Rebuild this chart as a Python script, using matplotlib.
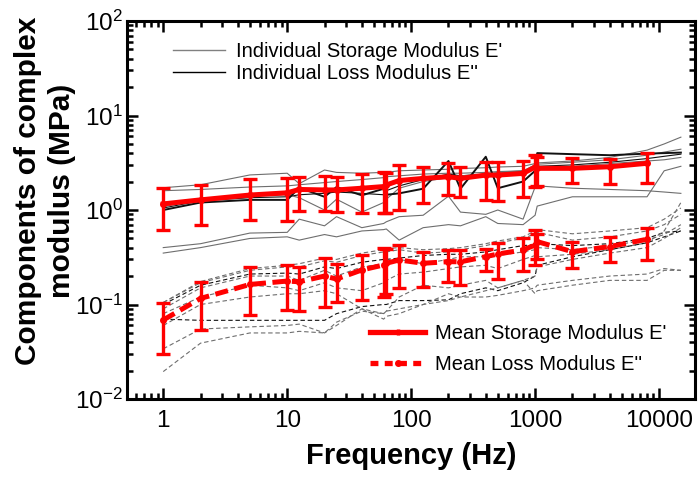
import matplotlib
matplotlib.use('Agg')
import matplotlib.pyplot as plt
from matplotlib.lines import Line2D
from matplotlib.ticker import LogLocator, NullFormatter, FixedLocator

plt.rcParams['font.family'] = ['Liberation Sans', 'DejaVu Sans']
plt.rcParams['mathtext.fontset'] = 'custom'
plt.rcParams['mathtext.rm'] = 'Liberation Sans'
plt.rcParams['mathtext.it'] = 'Liberation Sans:italic'
plt.rcParams['mathtext.bf'] = 'Liberation Sans:bold'

# ---------------- data ----------------
freq_mean = [1, 2, 5, 10, 12.5, 20, 25, 40, 60, 63, 80, 125, 200, 250, 400, 500, 800, 1000, 1040, 2000, 4000, 8000]
storage_mean = [1.16, 1.28, 1.44, 1.52, 1.65, 1.63, 1.63, 1.70, 1.77, 1.84, 2.05, 2.16, 2.25, 2.16, 2.34, 2.34, 2.44, 2.85, 2.76, 2.76, 2.87, 3.12]
storage_hi = [1.70, 1.84, 2.11, 2.20, 2.25, 2.30, 2.25, 2.39, 2.51, 2.45, 2.99, 2.87, 3.12, 2.87, 3.24, 3.20, 3.30, 3.82, 3.60, 3.58, 3.50, 4.04]
storage_lo = [0.61, 0.69, 0.78, 0.77, 0.975, 0.975, 0.95, 0.92, 0.92, 0.93, 1.00, 1.18, 1.44, 1.38, 1.28, 1.25, 1.38, 1.77, 1.80, 1.92, 1.88, 1.94]
loss_mean = [0.0686, 0.116, 0.163, 0.177, 0.174, 0.200, 0.186, 0.232, 0.262, 0.273, 0.296, 0.273, 0.284, 0.283, 0.321, 0.342, 0.378, 0.426, 0.463, 0.362, 0.410, 0.490]
loss_hi = [0.103, 0.174, 0.248, 0.262, 0.250, 0.308, 0.266, 0.334, 0.393, 0.390, 0.426, 0.362, 0.378, 0.378, 0.384, 0.451, 0.500, 0.614, 0.560, 0.463, 0.514, 0.640]
loss_lo = [0.0297, 0.0537, 0.0775, 0.0875, 0.085, 0.095, 0.107, 0.112, 0.121, 0.128, 0.148, 0.152, 0.174, 0.161, 0.228, 0.186, 0.228, 0.262, 0.300, 0.241, 0.284, 0.296]

freq_ind = [1, 2, 5, 10, 12.5, 20, 25, 40, 60, 63, 80, 125, 200, 250, 400, 500, 800, 1000, 1040, 2000, 4000, 8000, 11000, 15000]

# individual storage moduli (solid lines)
storage_s1 = [1.72, 1.85, 2.35, 2.45, 1.90, 2.65, 2.50, 2.45, 2.50, 2.50, 2.60, 2.65, 2.70, 2.75, 2.80, 2.85, 2.90, 3.10, 3.15, 3.30, 3.60, 4.30, 5.00, 5.90]
storage_s2 = [1.60, 1.65, 1.75, 1.80, 1.85, 1.95, 2.00, 2.10, 2.20, 2.25, 2.30, 2.40, 2.45, 2.45, 2.50, 2.55, 2.60, 3.00, 3.05, 3.20, 3.40, 3.80, 4.10, 4.40]
storage_s3 = [1.00, 1.20, 1.28, 1.28, 1.72, 1.38, 1.75, 1.43, 1.68, 1.45, 1.50, 1.68, 3.30, 1.68, 3.66, 1.70, 2.00, 2.60, 4.00, 3.90, 3.80, 3.95, 4.00, 4.05]
storage_s4 = [1.05, 1.25, 1.35, 1.38, 1.45, 1.50, 1.55, 1.50, 1.45, 1.60, 1.80, 2.10, 2.40, 2.30, 2.40, 2.45, 2.55, 2.80, 2.90, 3.00, 3.20, 3.50, 3.70, 3.90]
storage_s5 = [1.08, 1.30, 1.40, 1.45, 1.35, 1.00, 1.30, 0.95, 1.20, 1.30, 1.70, 2.00, 2.20, 2.30, 2.40, 2.50, 2.60, 2.70, 2.75, 2.90, 3.10, 3.30, 3.40, 3.60]
storage_s6 = [0.40, 0.44, 0.57, 0.58, 0.80, 0.68, 0.85, 0.65, 0.72, 0.75, 0.85, 0.88, 1.40, 0.95, 0.90, 1.00, 0.80, 1.75, 1.80, 1.70, 1.65, 1.60, 1.55, 1.50]
storage_s7 = [0.35, 0.40, 0.50, 0.52, 0.48, 0.55, 0.52, 0.60, 0.62, 0.63, 0.48, 0.65, 0.70, 0.68, 0.85, 0.72, 0.70, 0.88, 1.10, 1.38, 1.38, 1.38, 2.60, 2.90]

# individual loss moduli (dashed lines)
loss_l1 = [0.105, 0.170, 0.230, 0.250, 0.250, 0.290, 0.280, 0.330, 0.360, 0.360, 0.380, 0.350, 0.360, 0.380, 0.420, 0.450, 0.500, 0.560, 0.580, 0.480, 0.520, 0.600, 0.700, 0.900]
loss_l2 = [0.100, 0.160, 0.210, 0.215, 0.210, 0.250, 0.240, 0.280, 0.300, 0.300, 0.310, 0.330, 0.340, 0.340, 0.360, 0.380, 0.420, 0.430, 0.440, 0.420, 0.440, 0.500, 0.580, 0.600]
loss_l3 = [0.090, 0.150, 0.200, 0.200, 0.180, 0.230, 0.200, 0.250, 0.270, 0.280, 0.300, 0.270, 0.300, 0.320, 0.320, 0.330, 0.360, 0.380, 0.400, 0.380, 0.420, 0.480, 0.550, 0.700]
loss_l4 = [0.080, 0.120, 0.160, 0.150, 0.140, 0.170, 0.150, 0.140, 0.170, 0.180, 0.210, 0.220, 0.240, 0.250, 0.260, 0.240, 0.300, 0.330, 0.320, 0.340, 0.380, 0.450, 0.600, 1.200]
loss_l5 = [0.070, 0.068, 0.068, 0.068, 0.068, 0.068, 0.080, 0.095, 0.100, 0.100, 0.110, 0.110, 0.112, 0.130, 0.150, 0.140, 0.170, 0.200, 0.260, 0.320, 0.380, 0.450, 0.520, 0.600]
loss_l6 = [0.060, 0.100, 0.120, 0.130, 0.130, 0.140, 0.130, 0.090, 0.070, 0.075, 0.080, 0.100, 0.130, 0.120, 0.140, 0.150, 0.180, 0.200, 0.250, 0.300, 0.350, 0.400, 0.500, 0.650]
loss_l7 = [0.034, 0.055, 0.058, 0.060, 0.062, 0.050, 0.060, 0.090, 0.080, 0.085, 0.090, 0.100, 0.110, 0.120, 0.120, 0.125, 0.140, 0.150, 0.160, 0.180, 0.200, 0.210, 0.240, 0.230]
loss_l8 = [0.0195, 0.039, 0.050, 0.050, 0.052, 0.050, 0.065, 0.085, 0.080, 0.085, 0.120, 0.160, 0.150, 0.160, 0.180, 0.150, 0.180, 0.130, 0.140, 0.160, 0.180, 0.180, 0.230, 0.230]
loss_l9 = [0.105, 0.175, 0.240, 0.260, 0.270, 0.310, 0.300, 0.350, 0.380, 0.390, 0.400, 0.380, 0.390, 0.400, 0.440, 0.470, 0.520, 0.600, 0.620, 0.560, 0.600, 0.650, 0.800, 1.050]

x_ticks = [1, 10, 100, 1000, 10000]
x_tick_labels = ['1', '10', '100', '1000', '10000']
y_ticks = [0.01, 0.1, 1, 10, 100]
y_exponents = [-2, -1, 0, 1, 2]

# ---------------- figure ----------------
W, H = 698, 483
fig = plt.figure(figsize=(W / 100, H / 100), dpi=100)
ax = fig.add_axes([127 / W, 1 - 399 / H, (695 - 127) / W, (399 - 21) / H])
ax.set_xscale('log')
ax.set_yscale('log')

gray = '#6e6e6e'
black = '#111111'
for s, c, lw in [(storage_s1, gray, 0.8), (storage_s2, gray, 0.8), (storage_s4, black, 0.8),
                 (storage_s5, gray, 0.8), (storage_s6, gray, 0.8), (storage_s7, gray, 0.8),
                 (storage_s3, black, 1.4)]:
    ax.plot(freq_ind, s, color=c, lw=lw, zorder=2)

dash = (0, (4, 2.5))
for s, c in [(loss_l1, gray), (loss_l2, black), (loss_l3, gray), (loss_l4, gray), (loss_l5, black),
             (loss_l6, gray), (loss_l7, gray), (loss_l8, gray), (loss_l9, gray)]:
    ax.plot(freq_ind, s, color=c, lw=0.8, linestyle=dash, zorder=2)

red = '#ff0000'
s_err = [[m - l for m, l in zip(storage_mean, storage_lo)], [h - m for m, h in zip(storage_mean, storage_hi)]]
l_err = [[m - l for m, l in zip(loss_mean, loss_lo)], [h - m for m, h in zip(loss_mean, loss_hi)]]
ax.errorbar(freq_mean, storage_mean, yerr=s_err, color=red, lw=3.6, elinewidth=2.4,
            capsize=5, capthick=2.4, marker='o', ms=4, zorder=5)
ax.errorbar(freq_mean, loss_mean, yerr=l_err, color=red, lw=3.6, elinewidth=2.4,
            capsize=5, capthick=2.4, marker='o', ms=4, zorder=5, linestyle=(0, (2.6, 1.3)))

ax.set_xlim(0.51, 19500)
ax.set_ylim(0.01, 100)

ax.xaxis.set_major_locator(FixedLocator(x_ticks))
ax.set_xticklabels(x_tick_labels)
ax.xaxis.set_minor_locator(LogLocator(base=10, subs=range(2, 10), numticks=20))
ax.xaxis.set_minor_formatter(NullFormatter())
ax.yaxis.set_major_locator(FixedLocator(y_ticks))
ax.set_yticklabels(['$\\mathregular{10^{%d}}$' % e for e in y_exponents])
ax.yaxis.set_minor_locator(LogLocator(base=10, subs=range(2, 10), numticks=20))
ax.yaxis.set_minor_formatter(NullFormatter())

ax.tick_params(which='both', direction='in', top=True, right=True, width=1.8, color='black')
ax.tick_params(which='major', length=8)
ax.tick_params(which='minor', length=4.5)
ax.tick_params(axis='x', which='major', labelsize=17.5, pad=8)
ax.tick_params(axis='y', which='major', labelsize=17.5, pad=3)
for sp in ax.spines.values():
    sp.set_linewidth(2.2)

ax.set_xlabel('Frequency (Hz)', fontsize=21, fontweight='bold', labelpad=7)
fig.text(45 / W, 1 - 191 / H, 'Components of complex\nmodulus (MPa)', rotation=90,
         fontsize=21.5, fontweight='bold', ha='center', va='center', linespacing=1.25,
         multialignment='center')

# legends
h1 = [Line2D([], [], color='#808080', lw=1.0), Line2D([], [], color='black', lw=1.0)]
leg1 = ax.legend(h1, ["Individual Storage Modulus E'", "Individual Loss Modulus E''"],
                 loc='upper left', bbox_to_anchor=(173 / W, 1 - 42 / H), bbox_transform=fig.transFigure,
                 frameon=False, fontsize=14.5, handlelength=2.6, handletextpad=0.55,
                 labelspacing=0.15, borderpad=0, borderaxespad=0)
ax.add_artist(leg1)
h2 = [Line2D([], [], color=red, lw=3.8, marker='|', ms=5, mew=2.5),
      Line2D([], [], color=red, lw=3.8, linestyle=(0, (1.5, 1.2)), marker='o', ms=4)]
ax.legend(h2, ["Mean Storage Modulus E'", "Mean Loss Modulus E''"],
          loc='upper left', bbox_to_anchor=(370 / W, 1 - 324 / H), bbox_transform=fig.transFigure,
          frameon=False, fontsize=14.5, handlelength=2.75, handletextpad=0.5,
          labelspacing=0.6, borderpad=0, borderaxespad=0)

fig.savefig('out.png', dpi=100)
